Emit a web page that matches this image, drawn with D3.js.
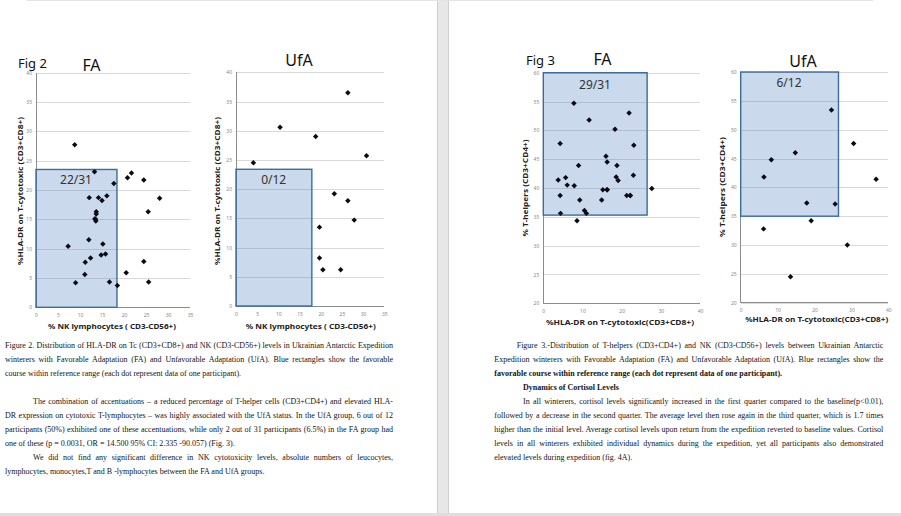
<!DOCTYPE html>
<html><head><meta charset="utf-8">
<script src="https://cdn.jsdelivr.net/npm/d3@7"></script>
<style>html,body{margin:0;padding:0;background:#fff;overflow:hidden}</style>
</head><body>
<svg id="c" width="901" height="516"></svg>
<script>
// ---------------- DATA ----------------
// Fig 2, FA group: % NK lymphocytes vs %HLA-DR on T-cytotoxic
const fig2FA_nk  = [8.8,13.3,17.7,20.8,21.7,24.5,12.1,14.2,15.0,16.1,28.1,13.7,13.7,13.4,13.6,25.5,7.3,12.0,15.2,11.2,12.4,14.8,15.8,24.5,11.1,20.5,9.0,16.7,18.5,25.6,13.5];
const fig2FA_hla = [27.7,23.1,21.1,22.1,22.9,21.7,18.7,18.7,18.2,19.0,18.6,16.3,15.9,15.1,14.7,16.3,10.4,11.5,10.8,7.7,8.4,8.9,9.1,7.8,5.6,5.9,4.2,4.3,3.7,4.3,15.0];
// Fig 2, UfA group
const fig2UfA_nk  = [4.1,10.4,18.8,26.4,30.8,23.2,26.4,27.9,19.7,19.7,20.5,24.7];
const fig2UfA_hla = [24.5,30.6,29.0,36.5,25.7,19.2,18.0,14.7,13.5,8.2,6.2,6.2];
// Fig 3, FA group: %HLA-DR on T-cytotoxic vs % T-helpers
const fig3FA_hla = [7.8,11.7,21.9,18.3,4.3,23.1,16.0,16.3,9.0,18.8,23.0,3.8,5.7,6.1,7.9,18.6,19.1,15.2,16.3,27.7,4.3,21.3,22.2,9.3,14.9,10.5,11.0,4.4,8.6,16.3,22.2];
const fig3FA_th  = [54.7,51.8,53.0,50.2,47.7,47.4,45.5,44.5,43.9,43.9,42.2,41.4,41.8,40.5,40.4,41.9,41.3,39.7,39.7,39.9,38.7,38.7,38.7,37.9,37.9,36.1,35.6,35.6,34.3,39.7,38.7];
// Fig 3, UfA group
const fig3UfA_hla = [24.6,30.6,14.8,8.3,6.3,36.7,17.9,25.6,19.1,6.2,28.9,13.5];
const fig3UfA_th  = [53.4,47.6,46.0,44.8,41.8,41.4,37.3,37.1,34.2,32.8,30.0,24.5];

// reference-range rectangles [xMin, xMax, yMin, yMax]
const fig2FA_ref  = [0, 18.4, 0, 23.5];
const fig2UfA_ref = [0, 17.9, 0, 23.4];
const fig3FA_ref  = [0, 26.5, 35.3, 60];
const fig3UfA_ref = [0, 26.5, 35, 60];
const refCounts = ["22/31", "0/12", "29/31", "6/12"];

// ticks
const fig2XTicks = [0,5,10,15,20,25,30,35];
const fig2YTicks = [0,5,10,15,20,25,30,35,40];
const fig3XTicks = [0,10,20,30,40];
const fig3YTicks = [20,25,30,35,40,45,50,55,60];

// titles
const fig2XTitle = "% NK lymphocytes ( CD3-CD56+)";
const fig2YTitle = "%HLA-DR  on T-cytotoxic (CD3+CD8+)";
const fig3XTitle = "%HLA-DR  on T-cytotoxic(CD3+CD8+)";
const fig3YTitle = "% T-helpers (CD3+CD4+)";

// page text
const leftCaption = [
 "Figure 2. Distribution of HLA-DR on Tc (CD3+CD8+) and NK (CD3-CD56+) levels in Ukrainian Antarctic Expedition",
 "winterers with Favorable Adaptation (FA) and Unfavorable Adaptation (UfA). Blue rectangles show the favorable",
 "course within reference range (each dot represent data of one participant)."
];
const leftPara = [
 "The combination of accentuations \u2013 a reduced percentage of T-helper cells (CD3+CD4+) and elevated HLA-",
 "DR expression on cytotoxic T-lymphocytes \u2013 was highly associated with the UfA status. In the UfA group, 6 out of 12",
 "participants (50%) exhibited one of these accentuations, while only 2 out of 31 participants (6.5%) in the FA group had",
 "one of these (p = 0.0031, OR = 14.500 95% CI: 2.335 -90.057) (Fig. 3).",
 "We did not find any significant difference in NK cytotoxicity levels, absolute numbers of leucocytes,",
 "lymphocytes, monocytes,T and  B -lymphocytes between the FA and UfA groups."
];
const rightCaption = [
 "Figure 3.-Distribution of T-helpers (CD3+CD4+) and NK (CD3-CD56+) levels between Ukrainian Antarctic",
 "Expedition winterers with Favorable Adaptation (FA) and Unfavorable Adaptation (UfA). Blue rectangles show the",
 "favorable course within reference range (each dot represent data of one participant)."
];
const rightHeading = "Dynamics of Cortisol Levels";
const rightPara = [
 "In all winterers, cortisol levels significantly increased in the first quarter compared to the baseline(p<0.01),",
 "followed by a decrease in the second quarter. The average level then rose again in the third quarter, which is 1.7 times",
 "higher than the initial level. Average cortisol levels upon return from the expedition reverted to baseline values. Cortisol",
 "levels in all winterers exhibited individual dynamics during the expedition, yet all participants also demonstrated",
 "elevated levels during expedition (fig. 4A)."
];

// ---------------- DRAW ----------------
const svg = d3.select("#c");
svg.append("rect").attr("width",901).attr("height",516).attr("fill","#fff");

// page chrome
svg.append("rect").attr("x",437).attr("y",0).attr("width",12).attr("height",516).attr("fill","#e7e7e7");
svg.append("line").attr("x1",437.5).attr("x2",437.5).attr("y1",0).attr("y2",516).attr("stroke","#cfcfcf");
svg.append("line").attr("x1",448.5).attr("x2",448.5).attr("y1",0).attr("y2",516).attr("stroke","#cfcfcf");
svg.append("line").attr("x1",27).attr("x2",873).attr("y1",0.5).attr("y2",0.5).attr("stroke","#e4e4e4");
svg.append("rect").attr("x",0).attr("y",513).attr("width",901).attr("height",3).attr("fill","#dedede");

const sansFont = "'Noto Sans', 'Open Sans', sans-serif";
const serifFont = "'Liberation Serif', 'Times New Roman', serif";

const panels = [
 {xs:fig2FA_nk, ys:fig2FA_hla, ref:fig2FA_ref, count:refCounts[0], xt:fig2XTicks, yt:fig2YTicks,
  xTitle:fig2XTitle, yTitle:fig2YTitle,
  L:36, R:190, T:72.7, B:307.3,
  cnt:[76,180], xT:[112,326.7,128], yT:[20.7,191,148], head:{text:"FA", x:91.5, y:65}},
 {xs:fig2UfA_nk, ys:fig2UfA_hla, ref:fig2UfA_ref, count:refCounts[1], xt:fig2XTicks, yt:fig2YTicks,
  xTitle:fig2XTitle, yTitle:fig2YTitle,
  L:236, R:384.3, T:72.3, B:306,
  cnt:[273.7,180], xT:[310.7,326,130], yT:[217.3,191,148], head:{text:"UfA", x:299, y:60}},
 {xs:fig3FA_hla, ys:fig3FA_th, ref:fig3FA_ref, count:refCounts[2], xt:fig3XTicks, yt:fig3YTicks,
  xTitle:fig3XTitle, yTitle:fig3YTitle,
  L:543.3, R:700, T:72.7, B:303.3,
  cnt:[595,85], xT:[620,322.7,148], yT:[525,188,97], head:{text:"FA", x:602.5, y:59}},
 {xs:fig3UfA_hla, ys:fig3UfA_th, ref:fig3UfA_ref, count:refCounts[3], xt:fig3XTicks, yt:fig3YTicks,
  xTitle:fig3XTitle, yTitle:fig3YTitle,
  L:740.7, R:888.3, T:72, B:302.7,
  cnt:[789,83], xT:[816.7,319.3,143], yT:[722.7,187,100], head:{text:"UfA", x:803, y:61}}
];

const diamond = d3.symbol().type(d3.symbolSquare).size(15);

panels.forEach(p => {
  const x = d3.scaleLinear().domain(d3.extent(p.xt)).range([p.L, p.R]);
  const y = d3.scaleLinear().domain(d3.extent(p.yt)).range([p.B, p.T]);
  const g = svg.append("g");

  // gridlines + y tick labels
  const ya = g.append("g").attr("transform",`translate(${p.L},0)`)
    .call(d3.axisLeft(y).tickValues(p.yt).tickSize(-(p.R-p.L)).tickPadding(4));
  ya.select(".domain").remove();
  ya.selectAll(".tick line").attr("stroke","#d9d9d9").attr("shape-rendering","crispEdges");
  ya.selectAll(".tick text").attr("font-family",sansFont).attr("font-size",5).attr("fill","#8a8a8a");

  const xa = g.append("g").attr("transform",`translate(0,${p.B})`)
    .call(d3.axisBottom(x).tickValues(p.xt).tickSize(0).tickPadding(6));
  xa.select(".domain").remove();
  xa.selectAll(".tick text").attr("font-family",sansFont).attr("font-size",5).attr("fill","#8a8a8a");

  // axis lines
  g.append("line").attr("x1",p.L).attr("x2",p.L).attr("y1",p.T).attr("y2",p.B)
    .attr("stroke","#8c8c8c").attr("shape-rendering","crispEdges");
  g.append("line").attr("x1",p.L).attr("x2",p.R).attr("y1",p.B).attr("y2",p.B)
    .attr("stroke","#8c8c8c").attr("shape-rendering","crispEdges");

  // reference rectangle
  g.append("rect")
    .attr("x", x(p.ref[0])).attr("y", y(p.ref[3]))
    .attr("width", x(p.ref[1]) - x(p.ref[0])).attr("height", y(p.ref[2]) - y(p.ref[3]))
    .attr("fill","rgba(79,129,189,0.30)").attr("stroke","#3a6c9c").attr("stroke-width",1.4);
  g.append("text").attr("x",p.cnt[0]).attr("y",p.cnt[1]).attr("dy","0.35em")
    .attr("text-anchor","middle").attr("font-family",sansFont).attr("font-size",12)
    .attr("fill","#333").text(p.count);

  // points
  g.selectAll("path.pt").data(p.xs.map((v,i)=>[v,p.ys[i]])).join("path")
    .attr("class","pt")
    .attr("d", diamond)
    .attr("transform", d => `translate(${x(d[0])},${y(d[1])}) rotate(45)`)
    .attr("fill","#0a0a14");

  // axis titles
  g.append("text").attr("x",p.xT[0]).attr("y",p.xT[1]).attr("dy","0.35em")
    .attr("text-anchor","middle").attr("font-family",sansFont).attr("font-weight","bold")
    .attr("font-size",7.5).attr("fill","#222")
    .attr("textLength",p.xT[2]).attr("lengthAdjust","spacingAndGlyphs").text(p.xTitle);
  g.append("text").attr("transform",`translate(${p.yT[0]},${p.yT[1]}) rotate(-90)`)
    .attr("dy","0.35em").attr("text-anchor","middle").attr("font-family",sansFont)
    .attr("font-weight","bold").attr("font-size",7.5).attr("fill","#222")
    .attr("textLength",p.yT[2]).attr("lengthAdjust","spacingAndGlyphs").text(p.yTitle);

  // panel heading
  g.append("text").attr("x",p.head.x).attr("y",p.head.y).attr("dy","0.35em")
    .attr("text-anchor","middle").attr("font-family",sansFont).attr("font-size",16)
    .attr("fill","#111").text(p.head.text);
});

// Fig labels
svg.append("text").attr("x",18).attr("y",63).attr("dy","0.35em").attr("font-family",sansFont)
  .attr("font-size",13).attr("fill","#111").text("Fig 2");
svg.append("text").attr("x",526).attr("y",60).attr("dy","0.35em").attr("font-family",sansFont)
  .attr("font-size",13).attr("fill","#111").text("Fig 3");

// justified text lines
function line(txt, x0, x1, y, justify, bold) {
  const t = svg.append("text").attr("x",x0).attr("y",y).attr("dy","0.33em")
    .attr("font-family",serifFont).attr("font-size",8).attr("fill","#141414")
    .attr("font-weight", bold ? "bold" : "normal").text(txt);
  if (justify) {
    const len = t.node().getComputedTextLength();
    const spaces = (txt.match(/ /g) || []).length;
    if (spaces > 0) t.attr("word-spacing", (x1 - x0 - len) / spaces);
  }
}
const lineH = 14;
leftCaption.forEach((s,i) => line(s, 5, 393, 345 + i*lineH, i < leftCaption.length-1, false));
leftPara.forEach((s,i) => {
  const indent = (i === 0 || i === 4);
  const last = (i === 3 || i === 5);
  line(s, indent ? 33 : 5, 393, 401 + i*lineH, !last, false);
});
rightCaption.forEach((s,i) => line(s, i===0 ? 516.7 : 494.3, 883.3, 345 + i*lineH, i < rightCaption.length-1, i===2));
line(rightHeading, 523, 883.3, 387, false, true);
rightPara.forEach((s,i) => line(s, i===0 ? 523 : 494.3, 883.3, 401 + i*lineH, i < rightPara.length-1, false));
</script>
</body></html>
